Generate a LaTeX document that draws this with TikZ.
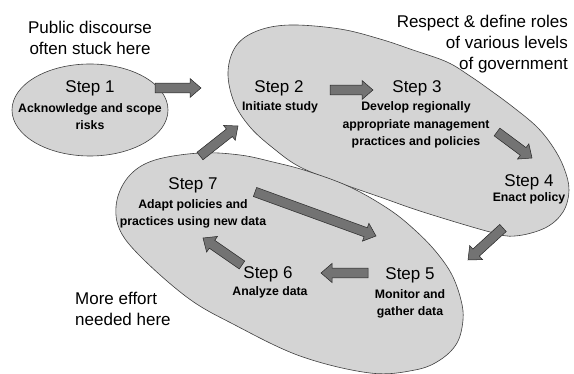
\documentclass[tikz,border=0pt]{standalone}
\usepackage{fontspec}
\setmainfont{Liberation Sans}
\usetikzlibrary{calc}

\tikzset{
  region/.style={fill=black!17, draw=black!75, line width=0.6pt},
  blockarrow/.style={fill=black!55, draw=black!85, line width=0.5pt},
  steptitle/.style={font=\fontsize{17}{19}\selectfont, inner sep=0pt},
  stepdesc/.style={font=\bfseries\fontsize{12.3}{17.5}\selectfont, align=center, inner sep=0pt},
  remark/.style={font=\fontsize{17}{21}\selectfont, inner sep=0pt},
}

% block arrow with flat tail and triangular head, from #1 to #2
\newcommand\blockarrow[2]{%
  \coordinate (ba-n) at ($(#2)!11pt!(#1)$);
  \filldraw[blockarrow]
    ($(#1)!4.8pt!90:(#2)$) -- ($(ba-n)!4.8pt!90:(#2)$) --
    ($(ba-n)!9.5pt!90:(#2)$) -- (#2) -- ($(ba-n)!9.5pt!-90:(#2)$) --
    ($(ba-n)!4.8pt!-90:(#2)$) -- ($(#1)!4.8pt!-90:(#2)$) -- cycle;
}

\begin{document}
\begin{tikzpicture}[x=1pt, y=-1pt]
  \useasboundingbox (0,0) rectangle (574,374);

  % shaded groupings of steps
  \path[region] (90,110) ellipse [x radius=78, y radius=46];
  \path[region] plot[smooth cycle, tension=0.6] coordinates {
    (228,72) (236,46) (257,31) (290,25) (340,29) (380,39) (413,50)
    (447,62) (470,76) (490,90) (513,107) (537,127) (553,147) (564,168)
    (569,190) (563,212) (545,228) (515,236) (490,232) (423,212)
    (380,197) (340,183) (300,167) (273,148) (250,127) (234,102)};
  \path[region] plot[smooth cycle, tension=0.6] coordinates {
    (117,200) (130,175) (155,160) (200,153) (240,155) (273,162)
    (307,171) (350,187) (390,210) (417,232) (437,253) (452,275)
    (461,300) (463,320) (457,343) (440,360) (415,370) (370,373)
    (300,356) (233,324) (188,298) (140,256) (119,228)};

  % remarks
  \node[remark, align=center] (pub) at (90,37.5) {Public discourse\\often stuck here};
  \node[remark, align=right, anchor=east] (gov) at (568,44) {Respect \& define roles\\of various levels\\of government};
  \node[remark, align=left, anchor=west] (eff) at (75,309) {More effort\\needed here};

  % steps
  \node[steptitle] (s1) at (90,88) {Step 1};
  \node[stepdesc]  (d1) at (90,116.5) {Acknowledge and scope\\risks};
  \node[steptitle] (s2) at (279,88) {Step 2};
  \node[stepdesc]  (d2) at (280,107) {Initiate study};
  \node[steptitle] (s3) at (417,88) {Step 3};
  \node[stepdesc]  (d3) at (416,125) {Develop regionally\\appropriate management\\practices and policies};
  \node[steptitle] (s4) at (529,182) {Step 4};
  \node[stepdesc]  (d4) at (529,198) {Enact policy};
  \node[steptitle] (s5) at (410,275) {Step 5};
  \node[stepdesc]  (d5) at (410,304) {Monitor and\\gather data};
  \node[steptitle] (s6) at (268,274) {Step 6};
  \node[stepdesc]  (d6) at (270,292) {Analyze data};
  \node[steptitle] (s7) at (193,185) {Step 7};
  \node[stepdesc]  (d7) at (193,214) {Adapt policies and\\practices using new data};

  % arrow end points
  \coordinate (a12) at (155,88);  \coordinate (b12) at (201,88);
  \coordinate (a23) at (330,90);  \coordinate (b23) at (373,90);
  \coordinate (a34) at (497,132); \coordinate (b34) at (532,158);
  \coordinate (a45) at (503,228); \coordinate (b45) at (468,260);
  \coordinate (a56) at (368,273); \coordinate (b56) at (321,273);
  \coordinate (a67) at (242,265); \coordinate (b67) at (203,238);
  \coordinate (a75) at (255,192); \coordinate (b75) at (376,236);
  \coordinate (a72) at (200,156); \coordinate (b72) at (238,126);

  \blockarrow{a12}{b12}
  \blockarrow{a23}{b23}
  \blockarrow{a34}{b34}
  \blockarrow{a45}{b45}
  \blockarrow{a56}{b56}
  \blockarrow{a67}{b67}
  \blockarrow{a75}{b75}
  \blockarrow{a72}{b72}
\end{tikzpicture}
\end{document}
